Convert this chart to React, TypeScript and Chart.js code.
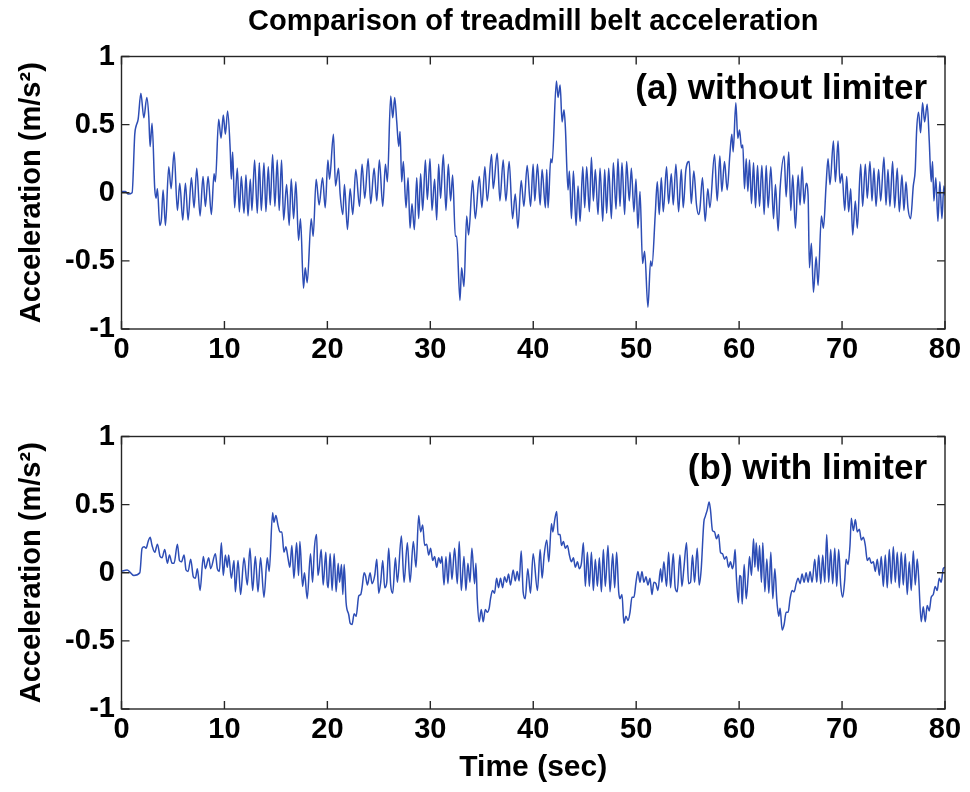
import React, { useEffect, useRef } from "react";
import Chart from "chart.js/auto";

const FONT = '"Liberation Sans", Arial, Helvetica, sans-serif';

const mainTitle = "Comparison of treadmill belt acceleration";
const yAxisTitle = "Acceleration (m/s\u00B2)";
const xAxisTitle = "Time (sec)";
const panelLabels = ["(a) without limiter", "(b) with limiter"];
const xTickRange = [0, 80, 10];
const yTickRange = [-1, 1, 0.5];

const timeA = [
  0, 0.39, 0.65, 1.03, 1.29, 1.42, 1.62, 1.88, 2.17, 2.46, 2.65, 2.78, 2.97, 3.23, 3.36, 3.49, 3.72, 3.88, 4.04, 4.27,
  4.59, 4.82, 5.11, 5.43, 5.66, 5.95, 6.21, 6.47, 6.79, 7.05, 7.31, 7.63, 7.92, 8.15, 8.41, 8.73, 8.99, 9.12, 9.44, 9.67,
  9.89, 10.09, 10.31, 10.57, 10.67, 10.8, 10.99, 11.25, 11.45, 11.64, 11.9, 12.09, 12.29, 12.51, 12.67, 12.93, 13.19, 13.39, 13.58, 13.84,
  14.03, 14.26, 14.45, 14.68, 14.9, 15.13, 15.32, 15.55, 15.75, 16.04, 16.29, 16.49, 16.72, 16.94, 17.2, 17.39, 17.68, 17.85, 18.04, 18.43,
  18.62, 18.91, 19.2, 19.53, 19.79, 20.05, 20.21, 20.59, 20.79, 21.08, 21.24, 21.5, 21.66, 21.95, 22.21, 22.47, 22.76, 23.12, 23.37, 23.63,
  23.96, 24.21, 24.54, 24.8, 25.05, 25.38, 25.64, 25.83, 26.15, 26.35, 26.54, 26.74, 26.93, 27.06, 27.22, 27.38, 27.64, 27.84, 28.03, 28.22,
  28.45, 28.68, 28.87, 29.06, 29.26, 29.52, 29.71, 29.97, 30.16, 30.42, 30.62, 30.81, 31.0, 31.26, 31.52, 31.75, 31.97, 32.17, 32.43, 32.56,
  32.88, 33.04, 33.27, 33.53, 33.72, 34.11, 34.37, 34.76, 35.01, 35.3, 35.53, 35.95, 36.11, 36.5, 36.76, 37.08, 37.34, 37.66, 37.99, 38.25,
  38.51, 38.83, 39.09, 39.41, 39.74, 39.99, 40.15, 40.41, 40.67, 40.86, 41.18, 41.31, 41.44, 41.7, 41.83, 42.25, 42.41, 42.61, 42.8, 42.99,
  43.12, 43.38, 43.51, 43.71, 43.9, 44.16, 44.35, 44.55, 44.81, 45.0, 45.19, 45.45, 45.65, 45.84, 46.03, 46.29, 46.49, 46.75, 46.94, 47.13,
  47.33, 47.59, 47.78, 48.04, 48.23, 48.43, 48.62, 48.88, 49.07, 49.33, 49.53, 49.78, 49.98, 50.17, 50.37, 50.62, 50.82, 51.14, 51.4, 51.53,
  51.85, 52.05, 52.24, 52.44, 52.63, 52.95, 53.15, 53.41, 53.6, 53.86, 54.12, 54.38, 54.57, 54.83, 55.15, 55.35, 55.6, 55.86, 56.06, 56.19,
  56.44, 56.7, 56.96, 57.16, 57.61, 57.87, 58.13, 58.32, 58.58, 58.84, 59.1, 59.29, 59.42, 59.68, 59.87, 60.04, 60.23, 60.36, 60.52, 60.69,
  60.85, 61.01, 61.2, 61.4, 61.59, 61.79, 61.98, 62.21, 62.43, 62.63, 62.82, 63.08, 63.34, 63.53, 63.79, 63.98, 64.37, 64.57, 64.82, 65.02,
  65.21, 65.47, 65.73, 65.92, 66.12, 66.31, 66.51, 66.7, 66.83, 67.02, 67.22, 67.48, 67.67, 67.99, 68.19, 68.45, 68.64, 68.83, 69.16, 69.35,
  69.61, 69.8, 70.0, 70.26, 70.45, 70.64, 70.84, 71.03, 71.29, 71.48, 71.81, 72.0, 72.26, 72.45, 72.71, 72.91, 73.1, 73.3, 73.55, 73.75,
  74.07, 74.27, 74.46, 74.65, 74.91, 75.11, 75.36, 75.56, 75.82, 76.01, 76.21, 76.4, 76.66, 76.92, 77.11, 77.24, 77.43, 77.63, 77.82, 78.02,
  78.27, 78.47, 78.66, 78.79, 78.92, 79.11, 79.31, 79.5, 79.7, 79.89, 80.0,
];

const accelA = [
  0.01, 0.01, -0.01, 0.0, 0.43, 0.49, 0.54, 0.73, 0.55, 0.7, 0.56, 0.34, 0.51, 0.03, -0.04, 0.03, -0.24, -0.19, 0.02, -0.24,
  0.19, 0.03, 0.3, -0.13, 0.07, -0.2, 0.07, -0.2, 0.11, -0.11, 0.18, -0.17, 0.12, -0.1, 0.12, -0.16, 0.14, 0.08, 0.54, 0.4,
  0.57, 0.43, 0.6, 0.3, 0.1, 0.3, -0.11, 0.18, -0.14, 0.12, -0.15, 0.13, -0.17, 0.1, -0.13, 0.24, -0.15, 0.22, -0.13, 0.22,
  -0.14, 0.19, -0.09, 0.28, -0.1, 0.24, -0.13, 0.24, -0.2, 0.06, -0.24, 0.1, -0.19, 0.08, -0.35, -0.19, -0.7, -0.55, -0.66, -0.19,
  -0.32, 0.1, -0.09, 0.11, -0.11, 0.24, 0.1, 0.43, 0.05, 0.18, -0.01, -0.16, 0.06, -0.27, 0.03, -0.16, 0.17, -0.1, 0.21, -0.04,
  0.25, -0.08, 0.18, -0.06, 0.24, -0.1, 0.21, 0.08, 0.71, 0.55, 0.7, 0.52, 0.34, 0.45, 0.08, 0.23, -0.11, 0.11, -0.26, -0.08,
  -0.27, 0.11, -0.19, 0.14, -0.13, 0.24, -0.05, 0.25, -0.13, 0.1, -0.2, 0.21, -0.04, 0.28, -0.13, 0.21, -0.06, 0.13, -0.32, -0.32,
  -0.79, -0.55, -0.69, -0.17, -0.31, 0.09, -0.19, 0.12, -0.11, 0.19, -0.06, 0.28, 0.03, 0.29, -0.06, 0.24, -0.06, 0.23, -0.19, -0.01,
  -0.26, 0.09, -0.1, 0.2, -0.1, 0.21, -0.06, 0.21, -0.09, 0.17, -0.11, 0.17, -0.11, 0.25, 0.22, 0.82, 0.7, 0.79, 0.52, 0.61,
  0.48, 0.02, 0.16, -0.19, 0.16, -0.24, 0.05, -0.21, 0.19, -0.11, 0.19, -0.14, 0.26, -0.06, 0.17, -0.16, 0.18, -0.21, 0.17, -0.15,
  0.18, -0.19, 0.22, -0.12, 0.25, -0.1, 0.22, -0.16, 0.23, -0.06, 0.18, -0.14, 0.1, -0.26, 0.01, -0.52, -0.43, -0.84, -0.5, -0.54,
  -0.16, 0.08, -0.16, 0.11, -0.14, 0.19, -0.08, 0.14, -0.09, 0.21, -0.14, 0.17, -0.11, 0.17, 0.23, -0.08, 0.16, -0.09, -0.16, -0.12,
  0.11, -0.21, 0.03, -0.11, 0.28, -0.06, 0.27, 0.01, 0.23, 0.02, 0.28, 0.43, 0.3, 0.66, 0.4, 0.46, 0.33, 0.35, 0.03, 0.25,
  0.01, 0.24, -0.08, 0.22, -0.11, 0.2, -0.1, 0.2, -0.16, 0.2, -0.11, 0.19, -0.19, 0.06, -0.28, 0.03, 0.27, -0.03, 0.3, -0.13,
  0.13, -0.26, 0.13, -0.09, 0.19, -0.08, 0.07, -0.02, -0.55, -0.37, -0.73, -0.47, -0.68, -0.17, -0.26, 0.06, 0.25, 0.06, 0.38, 0.08,
  0.38, 0.07, 0.14, -0.13, 0.12, -0.14, 0.03, -0.31, -0.06, -0.26, 0.21, -0.1, 0.21, -0.04, 0.23, -0.06, 0.18, -0.1, 0.17, -0.06,
  0.26, -0.09, 0.17, -0.1, 0.23, -0.11, 0.18, -0.14, 0.13, -0.13, 0.08, -0.11, -0.19, 0.05, 0.17, 0.45, 0.59, 0.44, 0.66, 0.52,
  0.65, 0.38, 0.08, 0.23, -0.06, 0.11, -0.21, 0.08, -0.19, 0.05, -0.02,
];

const timeB = [
  0, 0.55, 1.2, 1.78, 2.0, 2.2, 2.39, 2.59, 2.78, 2.97, 3.23, 3.49, 3.75, 3.94, 4.2, 4.46, 4.66, 4.91, 5.11, 5.43,
  5.63, 5.82, 6.08, 6.27, 6.47, 6.72, 6.98, 7.18, 7.37, 7.63, 7.95, 8.15, 8.47, 8.66, 9.12, 9.31, 9.51, 9.7, 9.89, 10.09,
  10.28, 10.41, 10.67, 10.93, 11.06, 11.32, 11.57, 11.9, 12.22, 12.48, 12.74, 13.0, 13.26, 13.51, 13.84, 14.16, 14.35, 14.68, 14.81, 15.0,
  15.2, 15.39, 15.58, 15.78, 15.97, 16.17, 16.36, 16.55, 16.75, 17.01, 17.2, 17.33, 17.59, 17.78, 18.04, 18.36, 18.56, 18.75, 18.95, 19.08,
  19.2, 19.4, 19.59, 19.85, 19.98, 20.08, 20.27, 20.46, 20.66, 20.85, 21.05, 21.18, 21.37, 21.5, 21.63, 21.82, 22.08, 22.21, 22.4, 22.6,
  22.79, 23.05, 23.24, 23.37, 23.57, 23.7, 23.89, 24.15, 24.34, 24.6, 24.8, 24.99, 25.18, 25.38, 25.57, 25.77, 25.96, 26.15, 26.35, 26.61,
  26.8, 27.19, 27.45, 27.77, 28.03, 28.35, 28.61, 28.87, 29.06, 29.26, 29.45, 29.65, 29.84, 30.03, 30.23, 30.42, 30.62, 30.81, 31.0, 31.13,
  31.33, 31.52, 31.71, 31.91, 32.1, 32.36, 32.62, 32.81, 33.01, 33.27, 33.46, 33.65, 33.85, 34.04, 34.3, 34.43, 34.56, 34.75, 34.95, 35.14,
  35.34, 35.53, 35.72, 35.85, 36.05, 36.24, 36.44, 36.63, 36.82, 37.02, 37.21, 37.41, 37.6, 37.79, 38.05, 38.25, 38.44, 38.63, 38.83, 39.02,
  39.22, 39.47, 39.73, 39.99, 40.41, 40.67, 40.86, 41.06, 41.31, 41.51, 41.77, 41.9, 42.09, 42.28, 42.41, 42.61, 42.74, 42.93, 43.12, 43.32,
  43.51, 43.71, 43.9, 44.09, 44.29, 44.48, 44.68, 44.87, 45.06, 45.26, 45.45, 45.65, 45.84, 46.03, 46.23, 46.42, 46.62, 46.81, 47.0, 47.26,
  47.46, 47.72, 47.91, 48.1, 48.3, 48.43, 48.62, 48.81, 49.01, 49.2, 49.4, 49.59, 49.78, 49.98, 50.17, 50.37, 50.56, 50.75, 50.95, 51.14,
  51.34, 51.53, 51.72, 51.92, 52.11, 52.37, 52.5, 52.69, 52.95, 53.15, 53.34, 53.6, 53.79, 53.99, 54.25, 54.44, 54.63, 54.89, 55.09, 55.28,
  55.47, 55.67, 55.93, 56.12, 56.31, 56.57, 56.7, 56.9, 57.09, 57.22, 57.41, 57.61, 57.8, 58.0, 58.19, 58.38, 58.58, 58.77, 58.97, 59.16,
  59.35, 59.48, 59.61, 59.74, 59.94, 60.04, 60.17, 60.3, 60.49, 60.69, 60.88, 61.01, 61.2, 61.4, 61.53, 61.66, 61.85, 61.98, 62.17, 62.3,
  62.5, 62.69, 62.89, 63.08, 63.27, 63.47, 63.66, 63.85, 63.98, 64.18, 64.37, 64.57, 64.76, 64.95, 65.15, 65.34, 65.54, 65.73, 65.92, 66.12,
  66.31, 66.51, 66.7, 66.89, 67.09, 67.35, 67.54, 67.73, 67.93, 68.12, 68.32, 68.51, 68.7, 68.9, 69.09, 69.29, 69.48, 69.67, 69.87, 70.06,
  70.26, 70.39, 70.58, 70.77, 70.9, 71.1, 71.29, 71.48, 71.68, 71.87, 72.07, 72.26, 72.45, 72.65, 72.84, 73.04, 73.23, 73.42, 73.62, 73.81,
  74.01, 74.2, 74.39, 74.59, 74.78, 74.98, 75.17, 75.36, 75.56, 75.75, 75.95, 76.14, 76.33, 76.53, 76.72, 76.92, 77.11, 77.3, 77.43, 77.69,
  77.89, 78.08, 78.27, 78.47, 78.66, 78.86, 79.05, 79.24, 79.44, 79.63, 79.83, 80.0,
];

const accelB = [
  0.01, 0.02, -0.02, 0.0, 0.18, 0.19, 0.18, 0.23, 0.26, 0.2, 0.15, 0.21, 0.12, 0.11, 0.17, 0.07, 0.13, 0.07, 0.07, 0.21,
  0.09, 0.08, 0.13, 0.02, 0.01, 0.1, -0.03, -0.04, 0.03, -0.13, 0.12, 0.03, 0.11, 0.03, 0.14, 0.03, 0.01, 0.22, -0.02, 0.13,
  0.04, 0.13, -0.04, 0.09, -0.14, 0.09, -0.16, 0.11, -0.09, 0.18, -0.13, 0.12, -0.14, 0.11, -0.18, 0.11, 0.01, 0.44, 0.37, 0.42,
  0.35, 0.3, 0.3, 0.15, 0.19, 0.11, 0.04, 0.2, -0.04, 0.22, -0.02, 0.23, -0.1, 0.0, -0.19, 0.14, -0.07, 0.19, 0.28, -0.02,
  0.03, 0.17, -0.09, 0.15, -0.07, -0.11, 0.14, -0.13, 0.14, -0.14, 0.07, -0.07, 0.06, -0.16, 0.06, -0.22, -0.31, -0.37, -0.38, -0.3,
  -0.32, -0.17, -0.16, -0.11, 0.0, -0.02, -0.09, 0.0, -0.08, -0.02, 0.1, -0.15, -0.07, 0.09, -0.11, -0.07, 0.18, -0.09, -0.15, 0.11,
  -0.07, 0.27, -0.07, 0.22, -0.07, 0.23, 0.04, 0.42, 0.3, 0.35, 0.2, 0.21, 0.13, 0.18, 0.09, 0.12, 0.04, 0.11, 0.07, 0.12,
  -0.09, 0.12, -0.08, 0.15, -0.05, 0.18, -0.08, 0.23, -0.13, 0.12, -0.13, 0.07, -0.07, 0.18, -0.08, 0.07, -0.19, -0.36, -0.27, -0.36,
  -0.27, -0.29, -0.26, -0.19, -0.13, -0.15, -0.04, -0.11, -0.04, -0.11, -0.03, -0.07, -0.01, -0.09, 0.02, -0.06, 0.01, -0.06, 0.16, -0.14,
  -0.19, 0.03, -0.15, 0.14, -0.13, 0.17, -0.04, 0.13, 0.24, 0.08, 0.36, 0.3, 0.39, 0.45, 0.28, 0.28, 0.2, 0.23, 0.18, 0.2,
  0.13, 0.08, 0.11, 0.04, 0.08, 0.03, 0.07, 0.22, -0.1, 0.15, -0.1, 0.15, -0.13, 0.1, -0.1, 0.11, -0.14, 0.17, -0.1, 0.2,
  -0.14, 0.14, -0.11, 0.15, -0.14, -0.19, -0.16, -0.37, -0.32, -0.35, -0.29, -0.18, -0.18, -0.07, 0.01, -0.07, 0.01, -0.07, -0.03, -0.09,
  -0.04, -0.16, -0.07, -0.08, -0.13, 0.03, -0.07, 0.08, -0.1, 0.15, -0.11, 0.14, -0.11, -0.14, 0.13, -0.1, 0.03, 0.22, -0.08, -0.07,
  0.13, -0.07, 0.18, -0.09, 0.02, 0.37, 0.41, 0.46, 0.52, 0.46, 0.31, 0.3, 0.25, 0.28, 0.15, 0.14, 0.1, 0.12, 0.04, 0.08,
  0.03, 0.07, 0.17, -0.04, -0.22, -0.02, -0.03, -0.23, 0.06, -0.19, -0.02, 0.12, -0.02, 0.25, 0.04, 0.22, 0.01, 0.2, -0.07, 0.22,
  -0.14, 0.1, -0.15, 0.15, -0.19, 0.03, -0.2, -0.32, -0.26, -0.42, -0.38, -0.29, -0.29, -0.19, -0.13, -0.14, -0.08, -0.04, -0.08, -0.01,
  -0.07, 0.0, -0.07, 0.01, -0.07, 0.1, -0.07, 0.13, -0.08, 0.13, -0.07, 0.28, -0.07, 0.17, -0.08, 0.18, -0.1, 0.17, -0.09, -0.18,
  -0.05, 0.1, 0.06, 0.2, 0.4, 0.31, 0.39, 0.3, 0.32, 0.24, 0.26, 0.2, 0.09, 0.11, 0.07, 0.08, 0.01, 0.1, -0.02, 0.12,
  -0.1, 0.13, -0.11, 0.17, -0.08, 0.19, -0.07, 0.15, -0.11, 0.15, -0.09, 0.14, -0.16, 0.08, -0.13, 0.16, -0.09, 0.1, -0.02, -0.36,
  -0.25, -0.36, -0.24, -0.28, -0.18, -0.16, -0.1, -0.13, -0.04, -0.07, 0.03, 0.04,
];

const frameAndLabel = {
  id: "frameAndLabel",
  afterDatasetsDraw(chart: any, _args: any, opts: any) {
    const { ctx, chartArea: a, scales } = chart;
    ctx.save();
    ctx.strokeStyle = "#262626";
    ctx.lineWidth = 1.4;
    ctx.strokeRect(a.left, a.top, a.right - a.left, a.bottom - a.top);
    const tl = 8;
    ctx.beginPath();
    scales.x.ticks.forEach((t: any) => {
      const px = scales.x.getPixelForValue(t.value);
      ctx.moveTo(px, a.bottom);
      ctx.lineTo(px, a.bottom - tl);
      ctx.moveTo(px, a.top);
      ctx.lineTo(px, a.top + tl);
    });
    scales.y.ticks.forEach((t: any) => {
      const py = scales.y.getPixelForValue(t.value);
      ctx.moveTo(a.left, py);
      ctx.lineTo(a.left + tl, py);
      ctx.moveTo(a.right, py);
      ctx.lineTo(a.right - tl, py);
    });
    ctx.stroke();
    if (opts && opts.text) {
      ctx.fillStyle = "#000";
      ctx.font = `bold 35px ${FONT}`;
      ctx.textAlign = "right";
      ctx.textBaseline = "alphabetic";
      ctx.fillText(opts.text, a.right - 18, a.top + 42);
    }
    ctx.restore();
  },
};

function makeConfig(times: number[], values: number[], label: string, top: boolean) {
  const tickFont = { family: FONT, size: 29, weight: "bold" as const };
  return {
    type: "line" as const,
    data: {
      datasets: [
        {
          data: times.map((t, i) => ({ x: t, y: values[i] })),
          borderColor: "#2d4db5",
          borderWidth: 1.5,
          pointRadius: 0,
          cubicInterpolationMode: "monotone" as const,
          fill: false,
        },
      ],
    },
    options: {
      responsive: false,
      animation: false as const,
      devicePixelRatio: 1,
      layout: { padding: { top: top ? 0 : 56.5, right: 25, left: 0, bottom: 0 } },
      plugins: {
        legend: { display: false },
        tooltip: { enabled: false },
        title: {
          display: top,
          text: mainTitle,
          fullSize: false,
          color: "#000",
          font: { family: FONT, size: 29, weight: "bold" as const },
          padding: { top: 5, bottom: 16.7 },
        },
        frameAndLabel: { text: label },
      },
      scales: {
        x: {
          type: "linear" as const,
          min: xTickRange[0],
          max: xTickRange[1],
          grid: { display: false, drawTicks: false, tickLength: 0 },
          border: { display: false },
          ticks: {
            stepSize: xTickRange[2],
            autoSkip: false,
            maxRotation: 0,
            padding: 3.6,
            color: "#000",
            font: tickFont,
          },
          title: {
            display: !top,
            text: xAxisTitle,
            color: "#000",
            font: { family: FONT, size: 30, weight: "bold" as const },
            padding: { top: 0, bottom: 6 },
          },
          afterFit: (s: any) => {
            s.height = top ? 51 : 83;
          },
        },
        y: {
          min: yTickRange[0],
          max: yTickRange[1],
          grid: { display: false, drawTicks: false, tickLength: 0 },
          border: { display: false },
          ticks: {
            stepSize: yTickRange[2],
            padding: 6.5,
            color: "#000",
            font: tickFont,
            callback: (v: any) => String(Math.round(Number(v) * 10) / 10),
          },
          title: {
            display: true,
            text: yAxisTitle,
            color: "#000",
            font: { family: FONT, size: 29, weight: "bold" as const },
            padding: { top: 15, bottom: 0 },
          },
          afterFit: (s: any) => {
            s.width = 121.5;
          },
        },
      },
    },
    plugins: [frameAndLabel],
  };
}

export default function App() {
  const refA = useRef<HTMLCanvasElement>(null);
  const refB = useRef<HTMLCanvasElement>(null);

  useEffect(() => {
    const a = new Chart(refA.current as HTMLCanvasElement, makeConfig(timeA, accelA, panelLabels[0], true) as any);
    const b = new Chart(refB.current as HTMLCanvasElement, makeConfig(timeB, accelB, panelLabels[1], false) as any);
    return () => {
      a.destroy();
      b.destroy();
    };
  }, []);

  return (
    <div style={{ position: "fixed", left: 0, top: 0, width: 970, height: 792, background: "#fff" }}>
      <canvas ref={refA} width={970} height={380} style={{ position: "absolute", left: 0, top: 0, width: 970, height: 380 }} />
      <canvas ref={refB} width={970} height={412} style={{ position: "absolute", left: 0, top: 380, width: 970, height: 412 }} />
    </div>
  );
}
